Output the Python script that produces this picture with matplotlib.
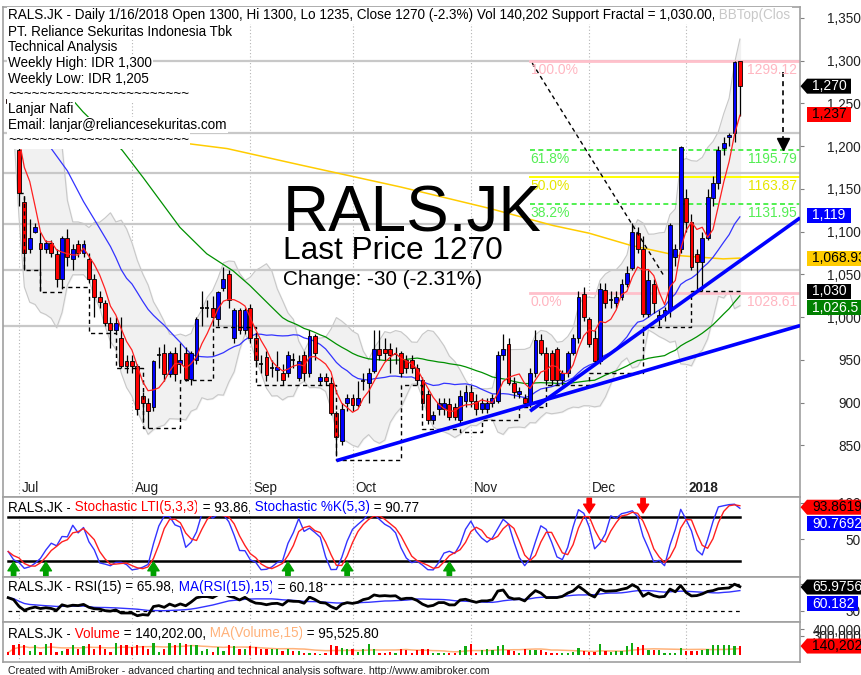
import numpy as np
import pandas as pd
import matplotlib
matplotlib.use("Agg")
import matplotlib.pyplot as plt
from matplotlib.patches import Polygon
from matplotlib.transforms import IdentityTransform, blended_transform_factory as blend

plt.rcParams['font.family'] = ['Liberation Sans', 'DejaVu Sans']

# ------------------------------------------------------------------ data
month_labels = ['Jul', 'Aug', 'Sep', 'Oct', 'Nov', 'Dec', '2018']
month_idx = [2, 23, 45, 64, 86, 108, 126]

opens = [1255,1250,1195,1134,1080,1100,1087,1080,1086,1074,
         1045,1093,1068,1085,1075,1068,1045,1023,1016,993,
         985,975,948,948,943,908,900,895,955,958,
         933,958,945,958,928,950,1010,1010,1010,998,
         1034,1050,975,1008,985,1010,975,945,953,940,
         938,934,934,950,929,955,934,978,925,930,
         923,888,855,900,905,897,925,923,937,963,
         963,963,957,958,950,950,940,926,910,880,
         893,893,898,895,880,902,912,902,893,893,
         900,902,955,969,923,910,905,899,934,973,
         958,958,963,926,934,958,975,1027,998,975,
         949,1032,1020,1016,1023,1039,1057,1098,1080,1004,
         1039,998,1002,1008,1070,1080,1139,1111,1074,1064,
         1093,1139,1157,1198,1210,1215,1300]
highs = [1270,1255,1200,1140,1115,1110,1100,1090,1090,1080,
         1095,1103,1085,1090,1090,1075,1050,1030,1020,1000,
         1000,1000,955,955,945,912,905,950,965,968,
         960,965,970,965,960,1000,1030,1020,1025,1030,
         1058,1055,1010,1010,1010,1015,980,955,960,950,
         960,945,960,958,955,960,985,980,935,935,
         930,890,900,910,910,925,935,940,985,985,
         975,970,965,960,955,955,945,930,915,890,
         905,905,905,900,915,920,920,910,905,905,
         910,960,980,975,930,918,910,940,985,980,
         965,962,965,938,960,980,1030,1035,1000,985,
         1040,1040,1030,1030,1045,1060,1110,1105,1095,1055,
         1045,1008,1012,1110,1085,1200,1150,1120,1080,1100,
         1150,1165,1200,1210,1215,1300,1300]
lows = [1240,1225,1130,1055,1075,1098,1030,1075,1070,1035,
        1035,1060,1055,1070,1070,1040,1000,1010,990,964,
        980,940,935,935,885,880,870,890,940,925,
        930,925,935,925,920,945,990,1000,990,990,
        1030,1010,970,980,980,970,945,935,925,930,
        925,920,930,940,925,925,930,950,920,920,
        885,837,850,890,890,895,915,900,935,950,
        950,935,945,930,935,935,920,895,875,875,
        885,885,880,880,875,895,895,885,888,888,
        895,900,950,920,905,905,895,895,930,955,
        920,920,920,920,930,955,970,995,965,945,
        945,1010,1010,1010,1020,1035,1055,1075,1000,1000,
        1005,990,995,1000,1060,1075,1100,1055,1030,1030,
        1090,1130,1150,1190,1200,1205,1235]
closes = [1250,1230,1145,1075,1093,1105,1080,1087,1075,1045,
          1093,1070,1080,1075,1085,1045,1023,1018,993,985,
          993,943,943,943,893,900,890,948,955,933,
          958,933,950,928,958,998,1010,1010,1000,1029,
          1044,1020,1008,985,1008,975,950,945,932,940,
          942,926,955,950,949,934,978,958,930,925,
          888,860,893,905,897,905,925,934,963,955,
          958,955,957,934,940,940,926,899,880,885,
          900,900,883,883,908,912,902,893,900,900,
          905,955,963,923,912,914,899,934,973,958,
          926,926,926,934,958,976,1023,1000,969,949,
          1033,1016,1020,1023,1039,1052,1099,1080,1004,1043,
          1016,1002,1008,1108,1080,1199,1111,1058,1064,1093,
          1140,1157,1195,1204,1213,1298,1270]
volumes_k = [40,150,170,160,60,150,40,170,190,40,
             60,100,150,90,140,170,90,160,90,40,
             190,160,150,130,160,140,90,190,40,90,
             190,160,190,170,160,150,60,90,40,120,
             60,160,140,90,90,140,120,90,90,90,
             90,60,90,60,60,30,30,30,20,30,
             150,140,110,100,100,50,90,170,
             90,30,30,40,30,95,80,30,80,95,95,30,
             30,30,30,30,80,140,175,30,80,95,
             80,140,160,80,65,30,95,80,80,80,
             45,30,30,30,30,45,110,65,45,45,
             175,65,45,65,65,140,190,130,160,80,
             80,80,30,30,30,110,65,65,65,80,
             95,160,160,160,160,140,140]

# moving-average values read where the history is off-chart
blue_head_idx = [0, 4, 8, 11, 14, 16.5]
blue_head_val = [1262, 1232, 1197, 1171, 1135, 1109]
green_head_idx = [0, 7, 13.9, 21.2, 25.1, 31.9, 36.9, 41.8, 44.9]
green_head_val = [1330, 1290, 1240, 1195, 1163, 1105, 1074, 1054, 1037]
yellow_idx = [0, 17, 31.9, 40.7, 54.2, 73, 89.5, 101.3, 108, 115.6, 124.3, 132.9, 136]
yellow_val = [1228, 1213, 1204, 1197, 1178, 1152, 1127, 1107, 1098, 1084, 1072, 1068, 1068.93]

level_lines = [1299, 1215, 1168, 1109, 1055, 990]
fib_levels = [1299.12, 1195.79, 1163.87, 1131.95, 1028.61]
fib_names = ['100.0%', '61.8%', '50.0%', '38.2%', '0.0%']
fib_start = 97

support_idx = [2, 3, 6, 10, 15, 20, 25, 32, 38, 46, 61, 73, 77, 84, 88, 95, 100, 108, 118, 127, 136]
support_val = [1145, 1055, 1029, 1035, 981, 940, 870, 926, 988, 920, 833, 920, 869, 865, 880, 895, 920, 934, 988, 1030, 1030]
diag_idx = [97.4, 121.8]
diag_val = [1297, 1049]
target_idx = [144, 144]
target_val = [1287, 1202]
trend1_idx = [61, 147.2]
trend1_val = [832, 990]
trend2_idx = [97, 147.2]
trend2_val = [890, 1116]

buy_idx = [1, 7, 27, 52, 63, 82]
sell_idx = [108, 118]

main_labels = [(1270, '1,270', 'black', 'white', True),
               (1237, '1,237', '#ff0000', 'black', False),
               (1119, '1,119', '#0000ff', 'white', False),
               (1068.93, '1,068.93', '#ffcc00', 'black', False),
               (1030, '1,030', 'black', 'white', False),
               (1026.5, '1,026.5', '#008000', 'white', False)]
stoch_labels = [(93.8619, '93.8619', '#ff0000', 'black', True),
                (90.7692, '90.7692', '#0000ff', 'white', False)]
rsi_labels = [(65.9756, '65.9756', 'black', 'white', True),
              (60.182, '60.182', '#0000ff', 'white', False)]
vol_labels = [(140202, '140,202', '#ff0000', 'black', True)]

# ------------------------------------------------------------------ derived
o = np.array(opens, float); h = np.array(highs, float)
l = np.array(lows, float); c = np.array(closes, float)
vol = np.array(volumes_k, float) * 1000
n = len(c)
idx = np.arange(n)
cs = pd.Series(c)
ma5 = cs.rolling(5, min_periods=1).mean().values
ma20 = cs.rolling(20).mean().values
ma50 = cs.rolling(50).mean().values
m10 = cs.rolling(10, min_periods=1).mean()
s10 = cs.rolling(10, min_periods=1).std(ddof=0)
bb_up = (m10 + 2 * s10).values
bb_dn = (m10 - 2 * s10).values

hh = pd.Series(h).rolling(5, min_periods=1).max()
ll = pd.Series(l).rolling(5, min_periods=1).min()
fast = 100 * (cs - ll) / (hh - ll).replace(0, np.nan)
fast = fast.fillna(50)
stk = fast.rolling(3, min_periods=1).mean()
std_ = stk.rolling(3, min_periods=1).mean()

diff = np.diff(c, prepend=c[0])
ag = al = 12.0
rsi = []
for d in diff:
    ag = (ag * 14 + max(d, 0)) / 15
    al = (al * 14 + max(-d, 0)) / 15
    rsi.append(100 * ag / (ag + al))
rsi = pd.Series(rsi)
rsi_ma = rsi.rolling(15, min_periods=1).mean()
vol_ma = pd.Series(vol).rolling(15, min_periods=1).mean()

# ------------------------------------------------------------------ figure
W, H = 862, 675
fig = plt.figure(figsize=(W / 100, H / 100), dpi=100)
R = fig.canvas.get_renderer()

def rect(x0, y0, x1, y1):
    return [x0 / W, 1 - y1 / H, (x1 - x0) / W, (y1 - y0) / H]

PX0, PX1 = 3, 800
BAR0, STEP = 8.2, 5.38
XL = ((PX0 - BAR0) / STEP, (PX1 - BAR0) / STEP)

line1_main = "RALS.JK - Daily 1/16/2018 Open 1300, Hi 1300, Lo 1235, Close 1270 (-2.3%) Vol 140,202 Support Fractal = 1,030.00,"
line1_tail = " BBTop(Clos"

def width_at(s, size, **kw):
    t = fig.text(0, 0, s, fontsize=size, **kw)
    w = t.get_window_extent(R).width
    t.remove()
    return w

FS = 10 * 785 / width_at(line1_main + line1_tail, 10)

ax = fig.add_axes(rect(PX0, 7, PX1, 497))
axs = fig.add_axes(rect(PX0, 497, PX1, 577))
axr = fig.add_axes(rect(PX0, 577, PX1, 622))
axv = fig.add_axes(rect(PX0, 622, PX1, 662))

ax.set_ylim(789.5, 1362.6)
axs.set_ylim(-1.4, 107.8)
axr.set_ylim(13.5, 81)
axv.set_ylim(-109000, 516000)
ax.set_yticks(np.arange(850, 1351, 50))
ax.set_yticklabels([f"{v:,}" for v in range(850, 1351, 50)])
axs.set_yticks([50, 100]); axs.set_yticklabels(['50', '100'])
axr.set_yticks([30, 70]); axr.set_yticklabels(['30', '70'])
axv.set_yticks([300000, 400000]); axv.set_yticklabels(['300,000', '400,000'])

for a in (ax, axs, axr, axv):
    a.set_xlim(*XL)
    a.set_xticks([])
    a.yaxis.tick_right()
    a.tick_params(axis='y', direction='out', length=3, width=0.8, color='#808080',
                  labelsize=FS, labelcolor='#202020', pad=40.9)
    for t in a.yaxis.get_major_ticks():
        t.label2.set_horizontalalignment('right')
    for sp in a.spines.values():
        sp.set_color('#a0a0a0'); sp.set_linewidth(1.2)
    for m in month_idx:
        a.axvline(m, color='#b4b4b4', lw=0.8, ls=(0, (1, 2)), zorder=0.5)

# ---- main price panel
for v in level_lines:
    ax.axhline(v, color='#c8c8c8', lw=1.6, zorder=1.2)
ax.fill_between(idx, bb_dn, bb_up, color='#f1f1f1', zorder=1)
ax.plot(idx, bb_up, color='#c8c8c8', lw=0.8, zorder=1.1)
ax.plot(idx, bb_dn, color='#c8c8c8', lw=0.8, zorder=1.1)

fib_cols = ['#ffc0cb', '#33ee33', '#ffff00', '#33ee33', '#ffc0cb']
fib_txt = ['#ffb6c1', '#55ee55', '#e6e600', '#55ee55', '#ffb6c1']
fib_ls = ['-', (0, (3, 2)), '-', (0, (3, 2)), '-']
fib_lw = [2, 1.2, 1.4, 1.2, 2]
for lev, name, col, tc, ls, lw in zip(fib_levels, fib_names, fib_cols, fib_txt, fib_ls, fib_lw):
    ax.plot([fib_start, XL[1]], [lev, lev], color=col, ls=ls, lw=lw, zorder=2)
    ax.text(fib_start + 0.1, lev - 2.3, name, color=tc, fontsize=FS * 1.03, va='top', ha='left', zorder=6)
    ax.text(XL[1] - 0.6, lev - 2.3, f"{lev:.2f}", color=tc, fontsize=FS * 1.03, va='top', ha='right', zorder=6)

ax.plot(yellow_idx, yellow_val, color='#ffcc00', lw=1.1, zorder=3)
gx = list(green_head_idx) + list(idx[49:]); gy = list(green_head_val) + list(ma50[49:])
ax.plot(gx, gy, color='#009000', lw=0.9, zorder=3)
bx = list(blue_head_idx) + list(idx[19:]); by = list(blue_head_val) + list(ma20[19:])
ax.plot(bx, by, color='#3333ff', lw=0.9, zorder=3)

up = c > o; dn = c < o; dj = c == o
ax.vlines(idx, l, h, color='black', lw=0.9, zorder=3.9)
bw = 0.72
ax.bar(idx[up], (c - o)[up], bottom=o[up], width=bw, color='#0000ff', edgecolor='black', lw=0.6, zorder=4)
ax.bar(idx[dn], (o - c)[dn], bottom=c[dn], width=bw, color='#ff0000', edgecolor='black', lw=0.6, zorder=4)
ax.hlines(c[dj], idx[dj] - bw / 2, idx[dj] + bw / 2, color='black', lw=1.2, zorder=4)
ax.plot(idx, ma5, color='#ff2020', lw=0.9, zorder=4.5)

ax.plot(support_idx, support_val, drawstyle='steps-post', color='black', lw=1.0, ls=(0, (3, 2.5)), zorder=4.2)
ax.plot(diag_idx, diag_val, color='black', lw=1.0, ls=(0, (3, 2.5)), zorder=4.2)
ax.plot(target_idx, target_val, color='black', lw=1.2, ls=(0, (3, 2.5)), zorder=4.2)
ax.plot([target_idx[-1]], [target_val[-1]], marker='v', ms=8, color='black', zorder=4.3)
ax.plot(trend1_idx, trend1_val, color='#0000ff', lw=2.6, zorder=5, solid_capstyle='butt')
ax.plot(trend2_idx, trend2_val, color='#0000ff', lw=2.6, zorder=5, solid_capstyle='butt')

tb = blend(ax.transData, ax.transAxes)
for m, lab in zip(month_idx, month_labels):
    ax.text(m + 0.5, 0.019, lab, transform=tb, fontsize=FS, color='#202020', va='center', ha='left',
            fontweight='bold' if lab == '2018' else 'normal', zorder=6)

# big labels
def fit_size(s, target):
    return 20 * target / width_at(s, 20)
big1, big2, big3 = "RALS.JK", "Last Price 1270", "Change: -30 (-2.31%)"
fig.text(283 / W, 1 - 232 / H, big1, fontsize=fit_size(big1, 258), va='baseline', ha='left', zorder=6)
fig.text(283 / W, 1 - 259 / H, big2, fontsize=fit_size(big2, 220), va='baseline', ha='left', zorder=6)
fig.text(283 / W, 1 - 285 / H, big3, fontsize=fit_size(big3, 200), va='baseline', ha='left', zorder=6)

# ---- stochastic panel
axs.plot(idx, stk, color='#3333ff', lw=1.0, zorder=3)
axs.plot(idx, std_, color='#ff2020', lw=1.0, zorder=3.1)
axs.plot([0, n - 1], [80, 80], color='black', lw=1.8, zorder=2)
axs.plot([0, n - 1], [20, 20], color='black', lw=1.8, zorder=2)
for i in buy_idx:
    axs.annotate('', xy=(i, 19), xytext=(i, 0.3),
                 arrowprops=dict(arrowstyle='simple,head_width=0.9,head_length=0.7,tail_width=0.35',
                                 color='#00a000', shrinkA=0, shrinkB=0, mutation_scale=9), zorder=4)
for i in sell_idx:
    axs.annotate('', xy=(i, 86), xytext=(i, 106),
                 arrowprops=dict(arrowstyle='simple,head_width=0.9,head_length=0.7,tail_width=0.35',
                                 color='#ff0000', shrinkA=0, shrinkB=0, mutation_scale=9), zorder=4)

# ---- RSI panel
axr.plot([0, n - 1], [70, 70], color='black', lw=0.9, ls=(0, (3, 3)), zorder=2)
axr.plot([0, n - 1], [30, 30], color='black', lw=0.9, ls=(0, (3, 3)), zorder=2)
axr.plot(idx, rsi_ma, color='#3333ff', lw=1.0, zorder=3)
axr.plot(idx, rsi, color='black', lw=2.0, zorder=3.1)

# ---- volume panel
vcol = np.where(c > o, '#11aa11', np.where(c < o, '#ff0000',
                np.where(c >= np.roll(c, 1), '#11aa11', '#ff0000')))
axv.bar(idx, vol, width=0.42, color=vcol, zorder=3)
axv.plot(idx, vol_ma, color='#ffb27a', lw=1.1, zorder=2.5)

# ------------------------------------------------------------------ texts
BOX = dict(boxstyle='square,pad=0.1', fc='white', ec='none')

def rich(x, y, parts, size, bg=True):
    for s, col in parts:
        t = fig.text(x / W, 1 - y / H, s, color=col, fontsize=size, ha='left', va='center',
                     zorder=8, bbox=BOX if bg else None)
        x = t.get_window_extent(R).x1
    return x

rich(8, 15.5, [(line1_main, 'black'), (line1_tail, '#c8c8c8')], FS)
rows = ["PT. Reliance Sekuritas Indonesia Tbk", "Technical Analysis", "Weekly High: IDR 1,300",
        "Weekly Low: IDR 1,205", "~" * 23, "Lanjar Nafi", "Email: lanjar@reliancesekuritas.com", "~" * 23]
row_y = [32, 47.5, 63, 78.5, 94, 109.5, 125, 140.5]
for s, y in zip(rows, row_y):
    rich(8, y, [(s, 'black')], FS)

rich(8, 507.5, [("RALS.JK -", 'black'), (" Stochastic LTI(5,3,3)", '#ff0000'), (" = 93.86,", 'black'),
                (" Stochastic %K(5,3)", '#0000ff'), (" = 90.77", 'black')], FS)
rich(8, 587.5, [("RALS.JK - RSI(15) = 65.98,", 'black'), (" MA(RSI(15),15)", '#0000ff'),
                (" = 60.18", 'black')], FS)
rich(8, 633.5, [("RALS.JK -", 'black'), (" Volume", '#ff0000'), (" = 140,202.00,", 'black'),
                (" MA(Volume,15)", '#ffb27a'), (" = 95,525.80", 'black')], FS)
fig.text(8 / W, 1 - 670.5 / H,
         "Created with AmiBroker - advanced charting and technical analysis software. http://www.amibroker.com",
         fontsize=FS * 0.78, color='#202020', ha='left', va='center')

def value_boxes(a, items, gap=16.5):
    rws = []
    for v, s, fc, tc, arrow in items:
        py = a.transData.transform((0, v))[1]
        rws.append([py, s, fc, tc, arrow])
    rws.sort(key=lambda r: -r[0])
    for i in range(1, len(rws)):
        rws[i][0] = min(rws[i][0], rws[i - 1][0] - gap)
    for py, s, fc, tc, arrow in rws:
        t = fig.text(812 / W, py / H, s, color=tc, fontsize=FS * 1.03, ha='left', va='center', zorder=10)
        w = t.get_window_extent(R).width
        right = max(851, 812 + w + 3)
        top, bot = py + 7.5, py - 7.5
        if arrow:
            pts = [(800.5, py), (807, top), (right, top), (right, bot), (807, bot)]
        else:
            pts = [(807, top), (right, top), (right, bot), (807, bot)]
        fig.add_artist(Polygon(pts, closed=True, fc=fc, ec='none', transform=IdentityTransform(), zorder=9))

value_boxes(ax, main_labels)
value_boxes(axs, stoch_labels)
value_boxes(axr, rsi_labels)
value_boxes(axv, vol_labels)

fig.savefig('out.png', dpi=100, facecolor='white')
